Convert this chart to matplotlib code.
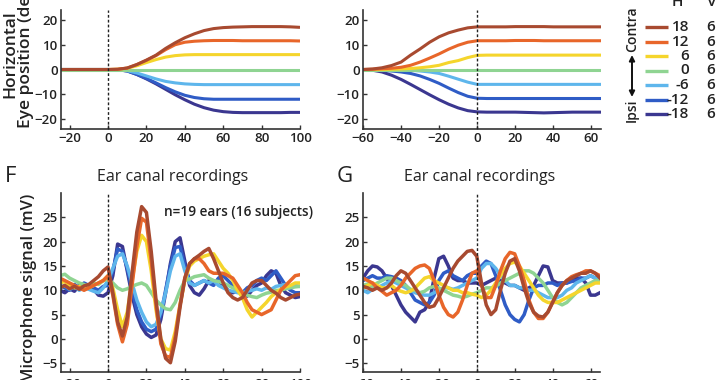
import numpy as np
import matplotlib
matplotlib.use("Agg")
import matplotlib.pyplot as plt

plt.rcParams['font.family'] = ['Open Sans', 'DejaVu Sans']
plt.rcParams['font.weight'] = 'semibold'

W, H = 720, 380

# ---- data -------------------------------------------------------------
h_values = ['18', '12', '6', '0', '-6', '-12', '-18']
v_values = ['6', '6', '6', '6', '6', '6', '6']
colors = ['#a84a30', '#e8662a', '#f5d52c', '#8fd492', '#5eb6ec', '#2f5cc6', '#3b3790']

# eye position, aligned on saccade onset / offset
t_on = np.arange(-25, 101, 5)
t_off = np.arange(-60, 66, 5)

eye_on = [
    [0, 0, 0, 0, 0, 0, 0.1, 0.6, 2.0, 3.8, 5.8, 8.5, 10.8, 12.8, 14.4, 15.7, 16.5, 16.9, 17.1, 17.2, 17.3, 17.3, 17.3, 17.3, 17.2, 17.0],
    [0, 0, 0, 0, 0, 0, 0.1, 0.6, 2.0, 3.7, 5.6, 8.0, 10.0, 11.0, 11.4, 11.6, 11.7, 11.7, 11.7, 11.6, 11.6, 11.6, 11.6, 11.6, 11.6, 11.5],
    [0, 0, 0, 0, 0, 0, 0.1, 0.5, 1.5, 2.8, 4.0, 5.0, 5.6, 5.9, 6.0, 6.0, 6.0, 6.0, 6.0, 6.0, 6.0, 6.0, 6.0, 6.0, 6.0, 6.0],
    [0, 0, 0, 0, 0, 0, 0, 0, 0, 0, 0, 0, 0, 0, 0, 0, 0, 0, 0, 0, 0, 0, 0, 0, 0, 0],
    [0, 0, 0, 0, 0, 0, -0.1, -0.5, -1.4, -2.6, -3.8, -4.8, -5.4, -5.8, -6.0, -6.1, -6.1, -6.1, -6.1, -6.1, -6.1, -6.1, -6.1, -6.1, -6.1, -6.1],
    [0, 0, 0, 0, 0, 0, -0.1, -0.6, -2.0, -3.6, -5.4, -7.3, -9.0, -10.4, -11.3, -11.8, -12.0, -12.0, -12.0, -12.0, -12.0, -12.0, -12.0, -12.0, -12.0, -12.0],
    [0, 0, 0, 0, 0, 0, -0.1, -0.6, -2.0, -3.8, -5.8, -8.0, -10.2, -12.2, -14.0, -15.4, -16.4, -17.0, -17.3, -17.4, -17.4, -17.4, -17.4, -17.4, -17.3, -17.3],
]

eye_off = [
    [0, 0.2, 0.7, 1.6, 3.0, 5.8, 8.3, 11.0, 13.2, 14.8, 15.9, 16.8, 17.2, 17.2, 17.2, 17.2, 17.3, 17.3, 17.3, 17.3, 17.2, 17.2, 17.2, 17.2, 17.2, 17.2],
    [0, 0.1, 0.3, 0.5, 0.9, 1.7, 3.0, 4.6, 6.3, 8.2, 9.8, 11.0, 11.6, 11.6, 11.6, 11.6, 11.7, 11.7, 11.7, 11.6, 11.6, 11.6, 11.6, 11.6, 11.6, 11.6],
    [0, 0, 0, 0.1, 0.2, 0.4, 0.7, 1.1, 1.7, 2.8, 3.6, 4.8, 5.7, 5.8, 5.8, 5.8, 5.8, 5.8, 5.8, 5.8, 5.8, 5.8, 5.8, 5.8, 5.8, 5.8],
    [0, 0, 0, 0, 0, 0, 0, 0, 0, 0, 0, 0, 0, 0, 0, 0, 0, 0, 0, 0, 0, 0, 0, 0, 0, 0],
    [0, 0, 0, -0.1, -0.2, -0.3, -0.6, -1.0, -1.6, -2.7, -3.9, -5.1, -6.0, -6.0, -6.0, -6.0, -6.0, -6.0, -6.0, -6.0, -6.0, -6.0, -6.0, -6.0, -6.0, -6.0],
    [0, -0.1, -0.3, -0.6, -1.0, -1.6, -2.6, -4.0, -5.6, -7.5, -9.3, -10.8, -11.6, -11.7, -11.7, -11.7, -11.7, -11.7, -11.7, -11.7, -11.7, -11.7, -11.7, -11.7, -11.7, -11.7],
    [0, -0.3, -1.0, -2.3, -4.0, -6.0, -8.1, -10.2, -12.2, -14.0, -15.5, -16.6, -17.1, -17.2, -17.2, -17.2, -17.2, -17.3, -17.4, -17.5, -17.4, -17.3, -17.2, -17.2, -17.2, -17.2],
]

# ear canal microphone signal (mV)
t_mic_on = np.arange(-25, 100.1, 2.5)
t_mic_off = np.arange(-60, 65.1, 2.5)

mic_on = [
    [10.5, 11.0, 10.3, 10.8, 10.2, 10.9, 11.2, 12.0, 12.8, 14.0,
     14.8, 9.5, 3.5, 0.6, 4.5, 13.5, 22.0, 27.2, 26.0, 18.0, 8.0, 0.0, -4.0, -4.9, -0.5, 6.5, 12.5, 15.5, 16.5, 17.2,
     18.0, 18.6, 16.5, 14.0, 11.5, 9.5, 8.5, 8.0, 8.5, 10.0, 11.5, 12.0, 12.0, 11.0, 10.0, 9.4, 8.5, 8.0, 8.5, 9.0, 9.2],
    [12.5, 12.0, 11.5, 11.0, 10.5, 10.0, 10.5, 11.0, 11.5, 12.0,
     13.0, 9.0, 3.0, -0.6, 3.0, 11.0, 19.0, 24.8, 24.0, 16.0, 7.0, -1.0, -3.5, -3.8, 0.5, 7.0, 12.5, 15.5, 16.5, 16.5,
     15.5, 14.0, 13.5, 13.5, 13.5, 13.0, 12.5, 11.0, 9.5, 7.5, 6.0, 5.5, 5.0, 5.5, 6.0, 8.0, 10.0, 11.0, 12.0, 13.0, 13.2],
    [11.5, 11.8, 11.0, 10.5, 10.8, 10.2, 10.5, 11.0, 11.5, 12.0,
     13.0, 10.5, 6.0, 2.5, 5.5, 12.0, 18.0, 21.3, 20.0, 14.0, 6.0, 0.0, -2.0, -2.3, 1.5, 7.0, 12.0, 15.0, 16.0, 16.5,
     17.0, 17.3, 17.5, 16.0, 14.5, 13.5, 12.0, 10.0, 8.5, 6.0, 4.5, 5.5, 6.5, 7.5, 8.7, 9.5, 10.2, 10.7, 11.0, 11.5, 11.5],
    [13.0, 13.3, 12.5, 12.0, 11.5, 11.2, 10.8, 11.5, 11.2, 12.0,
     12.2, 11.5, 10.5, 10.0, 10.3, 10.8, 11.2, 11.5, 11.0, 9.5, 8.0, 7.0, 6.2, 6.0, 7.5, 10.0, 12.0, 12.3, 12.8, 13.0,
     13.2, 12.5, 12.0, 11.8, 11.5, 11.0, 10.5, 10.0, 9.5, 9.0, 8.7, 8.5, 9.0, 9.4, 9.6, 10.0, 10.0, 10.3, 10.5, 10.7, 10.8],
    [10.5, 11.0, 10.2, 10.8, 10.0, 10.5, 10.2, 9.8, 9.5, 10.5,
     12.0, 14.5, 17.0, 17.5, 15.0, 11.5, 8.0, 5.5, 3.5, 2.5, 3.0, 5.5, 9.5, 14.0, 17.0, 17.5, 14.0, 11.5, 11.0, 11.5,
     12.0, 11.5, 12.0, 11.0, 10.5, 10.0, 9.8, 9.5, 9.5, 9.8, 10.0, 10.3, 10.0, 10.5, 10.2, 10.8, 11.0, 11.2, 10.8, 11.0, 10.8],
    [11.0, 10.5, 10.0, 11.2, 10.5, 11.5, 11.0, 10.5, 10.0, 10.8,
     11.0, 14.0, 18.5, 18.0, 14.5, 10.0, 6.0, 3.5, 2.0, 1.5, 2.0, 5.0, 10.0, 15.0, 18.8, 19.0, 15.0, 12.0, 11.0, 11.5,
     12.0, 11.5, 11.0, 12.5, 13.0, 12.0, 11.0, 10.0, 9.5, 10.5, 11.0, 12.0, 12.5, 12.0, 13.0, 14.0, 12.5, 11.0, 10.0, 9.5, 9.5],
    [10.0, 9.5, 10.3, 9.8, 11.0, 10.5, 10.8, 10.2, 9.0, 8.8,
     9.5, 13.0, 19.5, 19.0, 14.0, 9.0, 5.0, 2.5, 1.0, 0.3, 0.8, 4.0, 9.5, 15.5, 20.0, 20.8, 16.0, 11.0, 9.5, 9.0,
     10.3, 12.0, 11.5, 12.0, 11.0, 10.0, 9.5, 9.8, 9.2, 8.8, 10.0, 11.0, 11.5, 13.0, 14.0, 13.5, 11.0, 9.5, 9.0, 8.5, 8.7],
]

mic_off = [
    [10.8, 10.5, 10.0, 10.5, 10.0, 10.5, 11.5, 13.0, 14.0, 13.5, 12.0, 10.5, 9.0, 7.5, 6.5, 6.8, 8.5, 10.5, 12.5, 14.5,
     16.0, 17.0, 18.0, 18.2, 17.0, 11.5, 7.0, 5.0, 6.0, 10.0, 13.5, 16.0, 16.5, 14.0, 10.5, 7.5, 5.5, 4.7, 4.5, 5.5,
     7.5, 9.5, 11.0, 12.0, 12.5, 13.0, 13.5, 13.5, 14.0, 13.5, 12.5],
    [12.5, 12.0, 11.5, 10.5, 9.8, 9.0, 9.5, 10.0, 11.0, 12.5, 13.5, 14.5, 15.0, 15.2, 14.5, 12.0, 9.0, 6.5, 5.0, 4.5,
     5.5, 8.0, 11.0, 13.5, 14.0, 11.0, 8.5, 8.5, 11.0, 14.0, 16.5, 17.8, 17.5, 15.0, 12.0, 8.0, 5.5, 4.2, 4.2, 5.5,
     7.5, 9.5, 11.0, 12.0, 12.8, 13.2, 13.5, 14.0, 14.0, 13.5, 13.0],
    [10.5, 11.0, 11.5, 11.0, 10.5, 10.5, 11.0, 10.2, 9.8, 9.5, 9.8, 10.5, 11.5, 12.5, 12.8, 12.0, 11.5, 11.0, 10.5, 10.0,
     10.0, 9.5, 9.5, 9.2, 9.0, 8.5, 9.0, 10.0, 11.5, 13.0, 14.5, 15.5, 15.8, 15.0, 13.5, 12.0, 10.5, 9.0, 8.0, 7.5,
     7.5, 7.5, 8.0, 8.5, 9.0, 9.5, 10.0, 10.5, 11.0, 11.5, 11.5],
    [11.0, 11.3, 10.8, 11.5, 12.0, 12.5, 12.5, 12.0, 11.5, 11.0, 10.2, 10.0, 9.5, 9.8, 10.5, 10.8, 10.5, 10.0, 9.5, 9.0,
     8.8, 8.5, 8.8, 9.2, 9.5, 10.0, 10.5, 10.5, 10.8, 11.5, 12.0, 12.5, 13.0, 13.5, 14.0, 14.0, 13.5, 12.5, 11.5, 10.0,
     8.5, 7.5, 7.0, 7.5, 8.5, 9.5, 10.5, 11.0, 11.5, 12.0, 12.0],
    [10.0, 9.5, 10.2, 10.5, 11.0, 11.5, 12.0, 11.5, 11.0, 10.5, 10.0, 9.5, 9.2, 9.0, 9.0, 9.5, 10.0, 10.5, 10.5, 10.2,
     10.5, 11.0, 11.5, 12.0, 12.5, 14.5, 15.5, 15.5, 14.5, 13.0, 12.0, 11.0, 11.0, 10.5, 10.5, 10.0, 10.0, 9.5, 9.0, 8.5,
     8.5, 8.5, 9.0, 10.0, 10.5, 11.5, 12.0, 12.5, 13.0, 12.5, 12.5],
    [12.0, 12.5, 13.0, 12.5, 12.5, 13.0, 12.8, 12.5, 12.0, 11.0, 9.5, 8.0, 7.5, 7.0, 7.5, 9.0, 12.0, 13.5, 14.0, 13.0,
     12.5, 12.0, 13.0, 13.5, 13.5, 15.0, 16.0, 15.5, 13.0, 10.0, 7.0, 5.0, 4.0, 3.5, 5.0, 8.0, 10.5, 11.0, 11.0, 11.5,
     11.5, 11.0, 11.5, 11.5, 11.8, 12.0, 12.5, 12.5, 13.0, 12.5, 12.5],
    [12.5, 14.0, 15.0, 14.8, 14.0, 12.5, 11.0, 9.0, 7.0, 5.5, 4.5, 3.5, 5.5, 6.0, 7.5, 12.5, 16.5, 17.0, 15.0, 12.5,
     12.0, 12.0, 11.5, 11.5, 11.5, 11.0, 11.5, 12.0, 12.5, 12.0, 11.5, 11.0, 11.0, 10.5, 10.0, 10.5, 11.0, 13.0, 15.0, 14.8,
     12.0, 11.5, 11.5, 11.5, 12.0, 12.5, 12.5, 11.5, 9.0, 9.0, 9.5],
]

INK = '#222222'


def box(l, t, r, b):
    return [l / W, 1 - b / H, (r - l) / W, (b - t) / H]


def style(ax, xlim, ylim, xticks, yticks, xpad=2.5):
    ax.set_xlim(*xlim)
    ax.set_ylim(*ylim)
    ax.set_xticks(xticks)
    ax.set_yticks(yticks)
    for s in ['top', 'right']:
        ax.spines[s].set_visible(False)
    for s in ['left', 'bottom']:
        ax.spines[s].set_color('#333333')
        ax.spines[s].set_linewidth(1.2)
    ax.tick_params(direction='in', length=3, width=1, colors='#333333',
                   labelsize=9.5, pad=2.5)
    ax.tick_params(axis='x', pad=xpad)
    for lab in ax.get_xticklabels() + ax.get_yticklabels():
        lab.set_color(INK)
    ax.axvline(0, color='#222222', lw=1, ls=(0, (2, 1.5)), zorder=5)
    ax.set_facecolor('none')


fig = plt.figure(figsize=(W / 100, H / 100), dpi=100)

ax_tl = fig.add_axes(box(61, 10, 300, 129))
ax_tr = fig.add_axes(box(363, 10, 601, 129))
ax_bl = fig.add_axes(box(61, 193, 300, 372))
ax_br = fig.add_axes(box(363, 193, 600, 372))

order = range(6, -1, -1)
for i in order:
    ax_tl.plot(t_on, eye_on[i], color=colors[i], lw=2.2, solid_capstyle='butt')
    ax_tr.plot(t_off, eye_off[i], color=colors[i], lw=2.2, solid_capstyle='butt')
    ax_bl.plot(t_mic_on, mic_on[i], color=colors[i], lw=2.5)
    ax_br.plot(t_mic_off, mic_off[i], color=colors[i], lw=2.5)

style(ax_tl, (-24.5, 100), (-24, 24), np.arange(-20, 101, 20), [-20, -10, 0, 10, 20])
style(ax_tr, (-60, 65), (-24, 24), np.arange(-60, 61, 20), [-20, -10, 0, 10, 20])
style(ax_bl, (-24.5, 100), (-6.8, 30), np.arange(-20, 101, 20), np.arange(-5, 26, 5), xpad=4)
style(ax_br, (-60, 65), (-6.8, 30), np.arange(-60, 61, 20), np.arange(-5, 26, 5), xpad=4)

# overlay in pixel coordinates for labels and legend
ov = fig.add_axes([0, 0, 1, 1], zorder=10)
ov.set_xlim(0, W)
ov.set_ylim(H, 0)
ov.axis('off')

ov.text(18, 54, 'Horizontal\nEye position (deg)', rotation=90, ha='center', va='center',
        fontsize=12.5, linespacing=0.95, color=INK)
ov.text(29, 288, 'Microphone signal (mV)', rotation=90, ha='center', va='center',
        fontsize=12, color=INK)

ov.text(11, 177, 'F', fontsize=16, ha='center', va='center', color=INK, fontweight='normal')
ov.text(345, 177, 'G', fontsize=16, ha='center', va='center', color=INK, fontweight='normal')
ov.text(173, 177, 'Ear canal recordings', fontsize=11.5, ha='center', va='center',
        color=INK, fontweight='normal')
ov.text(480, 177, 'Ear canal recordings', fontsize=11.5, ha='center', va='center',
        color=INK, fontweight='normal')
ov.text(238, 212, 'n=19 ears (16 subjects)', fontsize=9.8, ha='center', va='center', color=INK)

# legend
ov.text(677, 2, 'H', fontsize=11, ha='center', va='center', color=INK)
ov.text(712, 2, 'V', fontsize=11, ha='center', va='center', color=INK)
for i in range(len(h_values)):
    y = 27 + 14.5 * i
    ov.plot([645, 668], [y, y], color=colors[i], lw=2.4, solid_capstyle='butt')
    ov.text(689, y, h_values[i], fontsize=11, ha='right', va='center', color=INK)
    ov.text(711, y, v_values[i], fontsize=11, ha='center', va='center', color=INK)

ov.text(632, 29, 'Contra', rotation=90, fontsize=10, ha='center', va='center', color=INK)
ov.text(632, 110, 'Ipsi', rotation=90, fontsize=10, ha='center', va='center', color=INK)
ov.annotate('', xy=(632, 97), xytext=(632, 55),
            arrowprops=dict(arrowstyle='<|-|>', color='#111111', lw=1.4,
                            mutation_scale=8, shrinkA=0, shrinkB=0))

fig.savefig('out.png', dpi=100)
